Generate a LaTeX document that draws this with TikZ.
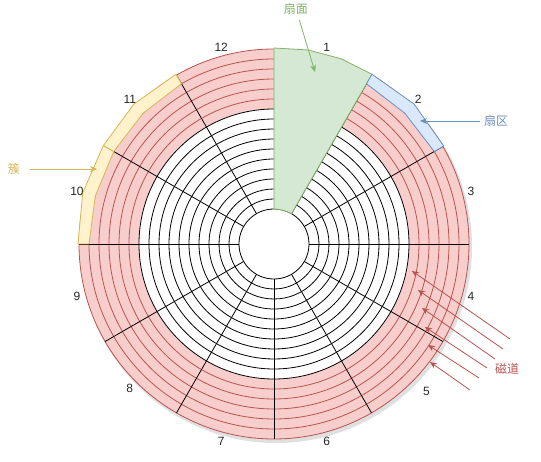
\documentclass[tikz,border=0pt]{standalone}
\usepackage{fontspec}
\setmainfont{Liberation Sans}
\newfontfamily\cjk{Noto Sans CJK SC}
\usetikzlibrary{arrows.meta}
\definecolor{trackfill}{HTML}{F8CECC}
\definecolor{trackline}{HTML}{B85450}
\definecolor{facefill}{HTML}{D5E8D4}
\definecolor{faceline}{HTML}{82B366}
\definecolor{secfill}{HTML}{DAE8FC}
\definecolor{secline}{HTML}{6C8EBF}
\definecolor{clusfill}{HTML}{FFF2CC}
\definecolor{clusline}{HTML}{D6B656}

\begin{document}
\begin{tikzpicture}[x=1pt, y=1pt, line width=0.8pt,
  >={Stealth[length=7pt, width=6pt]},
  numlabel/.style={font=\fontsize{12}{14}\selectfont, text=black!85},
  cjklabel/.style={font=\cjk\fontsize{12}{14}\selectfont, inner sep=1pt}]

% Canvas: disk centre at the origin
\useasboundingbox (-274,-218) rectangle (267,244);

% --- Platter ---

% Shadow
\fill[black, opacity=0.12] (2,-3) circle (196);

% Outer tracks (red ring)
\filldraw[fill=trackfill, draw=trackline] (0,0) circle (195);
\foreach \r in {185,175,...,145}
  \draw[trackline] (0,0) circle (\r);

% Inner tracks
\filldraw[fill=white, draw=black] (0,0) circle (135);
\foreach \r in {125,115,...,35}
  \draw[black] (0,0) circle (\r);

% Spokes every 30 degrees
\foreach \a in {0,30,...,330}
  \draw[black] (\a:35) -- (\a:195);

% --- Highlighted parts (drawn over the platter) ---

% Sector face 1
\filldraw[fill=facefill, draw=faceline]
  (90:196) -- (80:197) -- (70:197) -- (60:196) -- (60:35)
  arc[start angle=60, end angle=90, radius=35] -- cycle;

% Sector 2 on the outermost track
\filldraw[fill=secfill, draw=secline]
  (60:196) -- (45:198) -- (30:196) -- (30:185) -- (45:185) -- (60:185) -- cycle;

% Cluster: sectors 10 and 11 on the outermost track
\filldraw[fill=clusfill, draw=clusline]
  (180:196) -- (165:198) -- (150:197) -- (150:185) -- (165:185) -- (180:185) -- cycle;
\filldraw[fill=clusfill, draw=clusline]
  (150:197) -- (135:198) -- (120:196) -- (120:185) -- (135:185) -- (150:185) -- cycle;

% --- Sector numbers ---
\foreach \k in {1,2,3,4,6,7,8,9,10,11,12}
  \node[numlabel] (num\k) at ({75-30*(\k-1)}:204) {\k};
\node[numlabel] (num5) at (-44:212) {5};

% --- Annotations ---

% Face
\node[cjklabel, text=faceline] (lblFace) at (22,235) {扇面};
\coordinate (tipFace) at (41,172);
\draw[->, faceline, shorten <=4pt] (lblFace) -- (tipFace);

% Sector
\node[cjklabel, text=secline] (lblSector) at (222,123) {扇区};
\coordinate (tipSector) at (146,123);
\draw[->, secline, shorten <=3pt] (lblSector) -- (tipSector);

% Cluster
\node[cjklabel, text=clusline] (lblCluster) at (-260,75) {簇};
\coordinate (tipCluster) at (-177,75);
\draw[->, clusline, shorten <=9pt] (lblCluster) -- (tipCluster);

% Tracks
\node[cjklabel, text=trackline] (lblTrack) at (233,-125) {磁道};
\foreach \i/\sx/\sy/\tx/\ty in {1/236/-95/138/-27, 2/229/-105/144/-46,
    3/221/-115/148/-64, 4/213/-124/151/-83, 5/205/-134/154/-101,
    6/196/-146/156/-118} {
  \coordinate (trackFrom\i) at (\sx,\sy);
  \coordinate (trackTo\i) at (\tx,\ty);
  \draw[->, trackline] (trackFrom\i) -- (trackTo\i);
}

\end{tikzpicture}
\end{document}
